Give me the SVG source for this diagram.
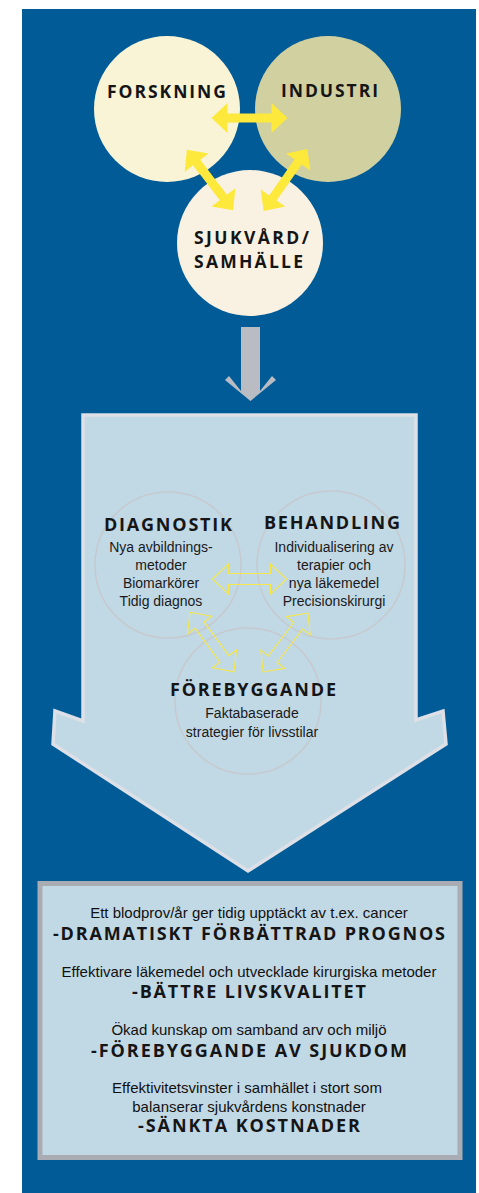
<svg xmlns="http://www.w3.org/2000/svg" xmlns:xlink="http://www.w3.org/1999/xlink" width="479" height="1193" viewBox="0 0 479 1193">
<style>
.head{font-family:"Open Sans","Liberation Sans",sans-serif;font-weight:700;fill:#151515}
.body{font-family:"Liberation Sans",Arial,sans-serif;font-size:14px;fill:#1a1a1a;text-anchor:middle}
.res{font-family:"Liberation Sans",Arial,sans-serif;font-size:15px;fill:#111;text-anchor:middle}
.ring{fill:none;stroke:#c6cacf;stroke-width:1.5}
.ysolid{fill:#fde83c}
.yline{fill:none;stroke:#f6e84a;stroke-width:1.1;stroke-linejoin:miter}
</style>
<defs>
<path id="dblSolid" d="M-38,0 L-22,-15 L-22,-4.5 L22,-4.5 L22,-15 L38,0 L22,15 L22,4.5 L-22,4.5 L-22,15 Z"/>
<path id="dblLine" d="M-37,0 L-21,-15 L-21,-5.5 L21,-5.5 L21,-15 L37,0 L21,15 L21,5.5 L-21,5.5 L-21,15 Z"/>
</defs>
<rect x="22" y="9" width="454" height="1184" fill="#005b96"/>

<g id="forskning">
<circle cx="167" cy="109" r="73" fill="#f8f4d5"/>
<text class="head" x="107" y="98" font-size="17.5" textLength="119" lengthAdjust="spacing">FORSKNING</text>
</g>
<g id="industri">
<circle cx="328" cy="109" r="73" fill="#d0d0a0"/>
<text class="head" x="281" y="97" font-size="17.5" textLength="97" lengthAdjust="spacing">INDUSTRI</text>
</g>
<g id="sjukvard">
<circle cx="250" cy="243" r="73" fill="#f9f1e1"/>
<text class="head" x="194" y="244" font-size="17.5" textLength="115" lengthAdjust="spacing">SJUKVÅRD/</text>
<text class="head" x="194" y="268" font-size="17.5" textLength="109" lengthAdjust="spacing">SAMHÄLLE</text>
</g>

<g id="panel">
<polygon points="83,415 416,415 416,720 443,711 446,744 248,871 53,744 55,711 83,721" fill="#c1d8e5" stroke="#dde0e6" stroke-width="3.5"/>
</g>
<g id="diagnostik">
<circle class="ring" cx="168" cy="565" r="73"/>
<text class="head" x="104" y="531" font-size="18" textLength="128" lengthAdjust="spacing">DIAGNOSTIK</text>
<text class="body" x="161" y="552">Nya avbildnings-</text>
<text class="body" x="161" y="570">metoder</text>
<text class="body" x="161" y="588">Biomarkörer</text>
<text class="body" x="161" y="606">Tidig diagnos</text>
</g>
<g id="behandling">
<circle class="ring" cx="331" cy="565" r="74"/>
<text class="head" x="264" y="529" font-size="18" textLength="136" lengthAdjust="spacing">BEHANDLING</text>
<text class="body" x="334" y="552">Individualisering av</text>
<text class="body" x="334" y="570">terapier och</text>
<text class="body" x="334" y="588">nya läkemedel</text>
<text class="body" x="334" y="606">Precisionskirurgi</text>
</g>
<g id="forebyggande">
<circle class="ring" cx="248" cy="701" r="73"/>
<text class="head" x="170" y="696" font-size="18" textLength="166" lengthAdjust="spacing">FÖREBYGGANDE</text>
<text class="body" x="252" y="718">Faktabaserade</text>
<text class="body" x="252" y="737">strategier för livsstilar</text>
</g>

<g id="resultat">
<rect x="40" y="883.5" width="420" height="274" fill="#c1d8e5" stroke="#a9adb3" stroke-width="5"/>
<text class="res" x="249" y="918">Ett blodprov/år ger tidig upptäckt av t.ex. cancer</text>
<text class="head" x="53" y="940" font-size="18" textLength="392" lengthAdjust="spacing">-DRAMATISKT FÖRBÄTTRAD PROGNOS</text>
<text class="res" x="249" y="977">Effektivare läkemedel och utvecklade kirurgiska metoder</text>
<text class="head" x="132" y="998" font-size="18" textLength="234" lengthAdjust="spacing">-BÄTTRE LIVSKVALITET</text>
<text class="res" x="249" y="1035">Ökad kunskap om samband arv och miljö</text>
<text class="head" x="91" y="1057" font-size="18" textLength="316" lengthAdjust="spacing">-FÖREBYGGANDE AV SJUKDOM</text>
<text class="res" x="247" y="1093">Effektivitetsvinster i samhället i stort som</text>
<text class="res" x="249" y="1112">balanserar sjukvårdens konstnader</text>
<text class="head" x="138" y="1132" font-size="18" textLength="222" lengthAdjust="spacing">-SÄNKTA KOSTNADER</text>
</g>

<g id="connectors">
<use xlink:href="#dblSolid" class="ysolid" transform="translate(249.5,118)"/>
<use xlink:href="#dblSolid" class="ysolid" transform="translate(210,180) rotate(52.5)"/>
<use xlink:href="#dblSolid" class="ysolid" transform="translate(285.5,180) rotate(125.1)"/>
<polygon points="241,327 260,327 260,391 272,376 276,380 250.5,401 225,380 229,376 241,391" fill="#b9bcc2"/>
<use xlink:href="#dblLine" class="yline" transform="translate(249.5,579)"/>
<use xlink:href="#dblLine" class="yline" transform="translate(212,642) rotate(53.7)"/>
<use xlink:href="#dblLine" class="yline" transform="translate(285.5,642.5) rotate(127.3)"/>
</g>
</svg>
